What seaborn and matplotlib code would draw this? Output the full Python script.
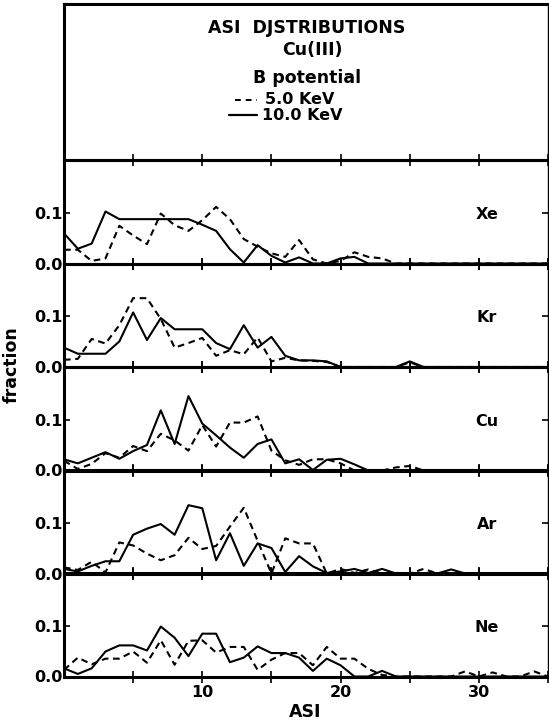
import matplotlib
matplotlib.use("Agg")
import matplotlib.pyplot as plt
import numpy as np
import pandas as pd
import seaborn as sns
from matplotlib.lines import Line2D

# ---------------- data ----------------
asi = list(range(36))
gases = ["Xe", "Kr", "Cu", "Ar", "Ne"]
energies = ["5.0 KeV", "10.0 KeV"]

def pad(v):
    return v + [0.0] * (36 - len(v))

xe_5 = pad([0.027, 0.027, 0.005, 0.010, 0.074, 0.055, 0.038, 0.098, 0.075, 0.064,
            0.085, 0.111, 0.087, 0.048, 0.033, 0.020, 0.013, 0.046, 0.008, 0.0,
            0.005, 0.022, 0.013, 0.010, 0.0])
xe_10 = pad([0.059, 0.029, 0.039, 0.102, 0.087, 0.087, 0.087, 0.087, 0.087, 0.087,
             0.076, 0.064, 0.028, 0.002, 0.036, 0.015, 0.002, 0.012, 0.0, 0.0,
             0.010, 0.013, 0.0])
kr_5 = pad([0.014, 0.016, 0.055, 0.046, 0.082, 0.135, 0.135, 0.094, 0.038, 0.047,
            0.057, 0.022, 0.033, 0.025, 0.058, 0.011, 0.018, 0.013, 0.012, 0.010,
            0.0, 0.0, 0.0, 0.0, 0.0, 0.009, 0.0])
kr_10 = pad([0.038, 0.026, 0.026, 0.026, 0.050, 0.107, 0.053, 0.096, 0.074, 0.074,
             0.074, 0.047, 0.035, 0.082, 0.038, 0.059, 0.022, 0.013, 0.013, 0.011,
             0.0, 0.0, 0.0, 0.0, 0.0, 0.011, 0.0])
cu_5 = pad([0.019, 0.003, 0.013, 0.034, 0.025, 0.048, 0.038, 0.072, 0.059, 0.039,
            0.089, 0.047, 0.094, 0.094, 0.106, 0.039, 0.020, 0.011, 0.022, 0.022,
            0.014, 0.0, 0.0, 0.0, 0.006, 0.009, 0.0])
cu_10 = pad([0.022, 0.014, 0.025, 0.036, 0.023, 0.038, 0.050, 0.118, 0.052, 0.146,
             0.092, 0.069, 0.045, 0.025, 0.052, 0.061, 0.014, 0.022, 0.001, 0.021,
             0.023, 0.012, 0.0])
ar_5 = pad([0.012, 0.007, 0.023, 0.002, 0.061, 0.055, 0.039, 0.026, 0.036, 0.070,
            0.048, 0.054, 0.092, 0.129, 0.064, 0.0, 0.069, 0.059, 0.059, 0.0,
            0.009, 0.001, 0.008, 0.0, 0.0, 0.0, 0.009, 0.0])
ar_10 = pad([0.009, 0.004, 0.015, 0.024, 0.024, 0.076, 0.088, 0.097, 0.076, 0.134,
             0.128, 0.026, 0.079, 0.015, 0.059, 0.050, 0.003, 0.034, 0.014, 0.001,
             0.004, 0.009, 0.001, 0.009, 0.0, 0.0, 0.0, 0.0, 0.008, 0.0])
ne_5 = pad([0.013, 0.037, 0.024, 0.035, 0.035, 0.049, 0.027, 0.071, 0.023, 0.070,
            0.071, 0.047, 0.058, 0.058, 0.013, 0.033, 0.046, 0.046, 0.022, 0.058,
            0.035, 0.035, 0.015, 0.003, 0.0, 0.0, 0.0, 0.0, 0.0, 0.010, 0.0,
            0.008, 0.0, 0.0, 0.010, 0.0])
ne_10 = pad([0.016, 0.005, 0.016, 0.049, 0.061, 0.061, 0.051, 0.098, 0.076, 0.040,
             0.084, 0.084, 0.028, 0.037, 0.059, 0.046, 0.046, 0.037, 0.011, 0.035,
             0.022, 0.0, 0.0, 0.011, 0.0])

series = {
    "Xe": (xe_5, xe_10),
    "Kr": (kr_5, kr_10),
    "Cu": (cu_5, cu_10),
    "Ar": (ar_5, ar_10),
    "Ne": (ne_5, ne_10),
}

x_ticks = [5, 10, 15, 20, 25, 30, 35]
x_tick_labels = ["", "10", "", "20", "", "30", ""]
y_ticks = [0.0, 0.1]
y_tick_labels = ["0.0", "0.1"]

rows = []
for g in gases:
    for e, vals in zip(energies, series[g]):
        for a, v in zip(asi, vals):
            rows.append({"gas": g, "energy": e, "ASI": a, "fraction": v})
df = pd.DataFrame(rows)

# ---------------- figure ----------------
sns.set_style("white")
plt.rcParams["font.family"] = ["DejaVu Sans"]
plt.rcParams["font.weight"] = "bold"
plt.rcParams["text.color"] = "black"
plt.rcParams["axes.labelcolor"] = "black"
plt.rcParams["xtick.color"] = "black"
plt.rcParams["ytick.color"] = "black"
plt.rcParams["axes.edgecolor"] = "black"

W, H = 549, 725
fig = plt.figure(figsize=(W / 100, H / 100), dpi=100)

left = 64 / W
width = (548 - 64) / W
frame_lw = 2.2
fs = 11.5

# top title box
box_top, box_bot = 4, 160
axt = fig.add_axes([left, 1 - box_bot / H, width, (box_bot - box_top) / H])
axt.set_xticks([]); axt.set_yticks([])
for s in axt.spines.values():
    s.set_linewidth(frame_lw); s.set_color("black")
axt.spines["right"].set_linewidth(1.0)
axt.text(0.502, 0.846, "ASI  DJSTRIBUTIONS", ha="center", va="center",
         fontsize=12.5, fontweight="bold", transform=axt.transAxes)
axt.text(0.514, 0.705, "Cu(III)", ha="center", va="center",
         fontsize=12.5, fontweight="bold", transform=axt.transAxes)
axt.text(0.502, 0.526, "B potential", ha="center", va="center",
         fontsize=12.5, fontweight="bold", transform=axt.transAxes)
axt.add_line(Line2D([0.353, 0.399], [0.385, 0.385], color="black", lw=1.4,
                    ls=(0, (3, 2.5)), transform=axt.transAxes))
axt.text(0.415, 0.385, "5.0 KeV", ha="left", va="center",
         fontsize=11.5, fontweight="bold", transform=axt.transAxes)
axt.add_line(Line2D([0.340, 0.399], [0.288, 0.288], color="black", lw=1.6,
                    transform=axt.transAxes))
axt.text(0.409, 0.288, "10.0 KeV", ha="left", va="center",
         fontsize=11.5, fontweight="bold", transform=axt.transAxes)

panel_tops = [160, 263.5, 367, 470, 573]
ph = 103.5
ymax = 0.203
for i, g in enumerate(gases):
    top = panel_tops[i]
    ax = fig.add_axes([left, 1 - (top + ph) / H, width, ph / H])
    sub = df[df["gas"] == g]
    sns.lineplot(data=sub, x="ASI", y="fraction", style="energy",
                 style_order=energies,
                 dashes={"5.0 KeV": (3.2, 2.2), "10.0 KeV": ""},
                 color="black", lw=1.5, errorbar=None, legend=False, ax=ax)
    ax.set_xlim(0, 35)
    ax.set_ylim(0, ymax)
    ax.set_xlabel(""); ax.set_ylabel("")
    for s in ["left", "bottom", "top"]:
        ax.spines[s].set_linewidth(frame_lw)
        ax.spines[s].set_color("black")
    ax.spines["right"].set_linewidth(1.0)
    ax.spines["right"].set_color("black")
    ax.set_xticks(x_ticks)
    ax.tick_params(axis="x", which="major", direction="inout", length=8,
                   width=1.2, top=True, bottom=True, labelbottom=(i == 4),
                   labelsize=fs, pad=2, colors="black")
    if i == 4:
        ax.set_xticklabels(x_tick_labels, fontweight="bold")
    ax.set_yticks(y_ticks)
    ax.set_yticklabels(y_tick_labels, fontweight="bold")
    ax.tick_params(axis="y", direction="in", length=4, width=1.2,
                   left=True, right=True, labelsize=fs, pad=1, colors="black")
    ax.text(30.6, 0.097, g, ha="center", va="center", fontsize=fs,
            fontweight="bold", color="black")
    ax.patch.set_alpha(0)

fig.text(12 / W, 1 - 365 / H, "fraction", rotation=90, ha="center",
         va="center", fontsize=12.5, fontweight="bold", color="black")
fig.text(305 / W, 1 - 712 / H, "ASI", ha="center", va="center",
         fontsize=12.5, fontweight="bold", color="black")

fig.savefig("out.png", dpi=100)
